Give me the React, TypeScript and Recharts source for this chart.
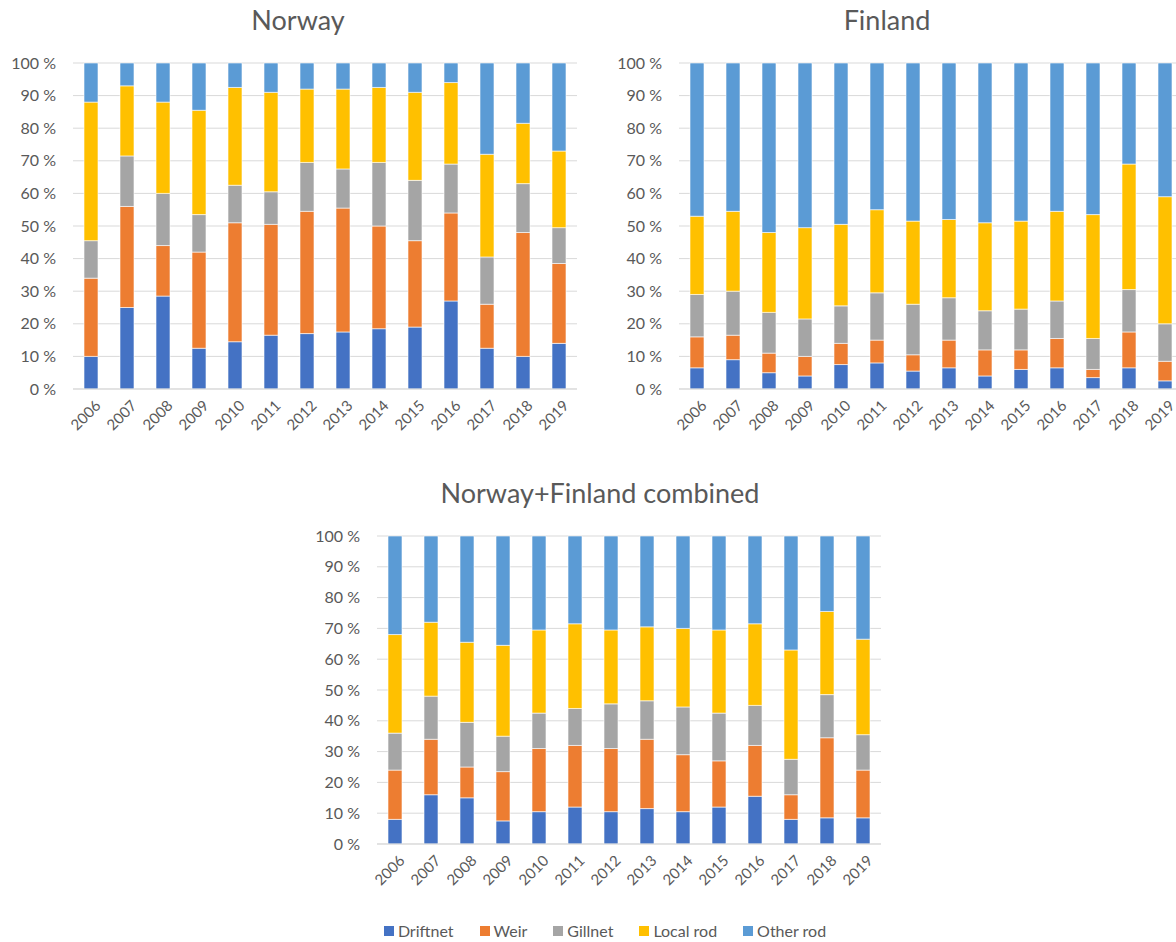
import React from 'react'
import { BarChart, Bar, XAxis, YAxis, CartesianGrid } from 'recharts'

const YEARS = ['2006', '2007', '2008', '2009', '2010', '2011', '2012', '2013', '2014', '2015', '2016', '2017', '2018', '2019']
const PCT_TICKS = [0, 10, 20, 30, 40, 50, 60, 70, 80, 90, 100]

// Norway shares (%) per gear type
const norwayDriftnet = [10, 25, 28.5, 12.5, 14.5, 16.5, 17, 17.5, 18.5, 19, 27, 12.5, 10, 14]
const norwayWeir = [24, 31, 15.5, 29.5, 36.5, 34, 37.5, 38, 31.5, 26.5, 27, 13.5, 38, 24.5]
const norwayGillnet = [11.5, 15.5, 16, 11.5, 11.5, 10, 15, 12, 19.5, 18.5, 15, 14.5, 15, 11]
const norwayLocalRod = [42.5, 21.5, 28, 32, 30, 30.5, 22.5, 24.5, 23, 27, 25, 31.5, 18.5, 23.5]
const norwayOtherRod = [12, 7, 12, 14.5, 7.5, 9, 8, 8, 7.5, 9, 6, 28, 18.5, 27]

// Finland shares (%)
const finlandDriftnet = [6.5, 9, 5, 4, 7.5, 8, 5.5, 6.5, 4, 6, 6.5, 3.5, 6.5, 2.5]
const finlandWeir = [9.5, 7.5, 6, 6, 6.5, 7, 5, 8.5, 8, 6, 9, 2.5, 11, 6]
const finlandGillnet = [13, 13.5, 12.5, 11.5, 11.5, 14.5, 15.5, 13, 12, 12.5, 11.5, 9.5, 13, 11.5]
const finlandLocalRod = [24, 24.5, 24.5, 28, 25, 25.5, 25.5, 24, 27, 27, 27.5, 38, 38.5, 39]
const finlandOtherRod = [47, 45.5, 52, 50.5, 49.5, 45, 48.5, 48, 49, 48.5, 45.5, 46.5, 31, 41]

// Norway + Finland combined (%)
const combinedDriftnet = [8, 16, 15, 7.5, 10.5, 12, 10.5, 11.5, 10.5, 12, 15.5, 8, 8.5, 8.5]
const combinedWeir = [16, 18, 10, 16, 20.5, 20, 20.5, 22.5, 18.5, 15, 16.5, 8, 26, 15.5]
const combinedGillnet = [12, 14, 14.5, 11.5, 11.5, 12, 14.5, 12.5, 15.5, 15.5, 13, 11.5, 14, 11.5]
const combinedLocalRod = [32, 24, 26, 29.5, 27, 27.5, 24, 24, 25.5, 27, 26.5, 35.5, 27, 31]
const combinedOtherRod = [32, 28, 34.5, 35.5, 30.5, 28.5, 30.5, 29.5, 30, 30.5, 28.5, 37, 24.5, 33.5]

const SERIES = [
  { key: 'driftnet', name: 'Driftnet', color: '#4472C4' },
  { key: 'weir', name: 'Weir', color: '#ED7D31' },
  { key: 'gillnet', name: 'Gillnet', color: '#A5A5A5' },
  { key: 'localRod', name: 'Local rod', color: '#FFC000' },
  { key: 'otherRod', name: 'Other rod', color: '#5B9BD5' }
]

const FONT = 'Lato, "Open Sans", sans-serif'

function buildRows(d: number[], w: number[], g: number[], l: number[], o: number[]) {
  return YEARS.map((year, i) => ({
    year,
    driftnet: d[i],
    weir: w[i],
    gillnet: g[i],
    localRod: l[i],
    otherRod: o[i]
  }))
}

const norwayData = buildRows(norwayDriftnet, norwayWeir, norwayGillnet, norwayLocalRod, norwayOtherRod)
const finlandData = buildRows(finlandDriftnet, finlandWeir, finlandGillnet, finlandLocalRod, finlandOtherRod)
const combinedData = buildRows(combinedDriftnet, combinedWeir, combinedGillnet, combinedLocalRod, combinedOtherRod)

const YearTick = ({ x, y, payload }: any) => (
  <g transform={`translate(${x + 7},${y + 6})`}>
    <text
      textAnchor="end"
      transform="rotate(-45)"
      dy="0.35em"
      fontSize={15}
      fill="#595959"
      fontFamily={FONT}
    >
      {payload.value}
    </text>
  </g>
)

const PctTick = ({ x, y, payload }: any) => (
  <text
    x={x - 9}
    y={y}
    textAnchor="end"
    dy="0.35em"
    fontSize={16}
    fill="#595959"
    fontFamily={FONT}
  >
    {`${payload.value} %`}
  </text>
)

interface PanelProps {
  data: any[]
  width: number
  height: number
  margin: { top: number; right: number; bottom: number; left: number }
}

function Panel({ data, width, height, margin }: PanelProps) {
  return (
    <BarChart width={width} height={height} data={data} margin={margin} barSize={14}>
      <CartesianGrid vertical={false} stroke="#d9d9d9" />
      <XAxis
        dataKey="year"
        tick={<YearTick />}
        tickLine={false}
        axisLine={{ stroke: '#d9d9d9' }}
        interval={0}
        height={45}
      />
      <YAxis
        domain={[0, 100]}
        ticks={PCT_TICKS}
        axisLine={false}
        tickLine={false}
        width={60}
        tick={<PctTick />}
      />
      {SERIES.map((s) => (
        <Bar
          key={s.key}
          dataKey={s.key}
          name={s.name}
          stackId="a"
          fill={s.color}
          stroke="#ffffff"
          strokeWidth={0.6}
          isAnimationActive={false}
        />
      ))}
    </BarChart>
  )
}

const titleStyle: React.CSSProperties = {
  position: 'absolute',
  fontFamily: FONT,
  fontSize: 27,
  color: '#595959',
  textAlign: 'center',
  lineHeight: '32px'
}

export default function App() {
  return (
    <div
      style={{
        position: 'fixed',
        left: 0,
        top: 0,
        width: 1176,
        height: 942,
        overflow: 'hidden',
        background: '#ffffff'
      }}
    >
      {/* Norway */}
      <div style={{ ...titleStyle, left: 0, top: 4, width: 596 }}>Norway</div>
      <div style={{ position: 'absolute', left: 0, top: 0 }}>
        <Panel data={norwayData} width={600} height={440} margin={{ top: 63, right: 23, bottom: 6, left: 13 }} />
      </div>

      {/* Finland */}
      <div style={{ ...titleStyle, left: 590, top: 4, width: 594 }}>Finland</div>
      <div style={{ position: 'absolute', left: 600, top: 0 }}>
        <Panel data={finlandData} width={600} height={440} margin={{ top: 63, right: 17, bottom: 6, left: 19 }} />
      </div>

      {/* Combined */}
      <div style={{ ...titleStyle, left: 300, top: 477, width: 600 }}>Norway+Finland combined</div>
      <div style={{ position: 'absolute', left: 300, top: 480 }}>
        <Panel data={combinedData} width={600} height={420} margin={{ top: 56, right: 19, bottom: 11, left: 17 }} />
      </div>

      {/* Legend */}
      <div
        style={{
          position: 'absolute',
          left: 300,
          top: 920,
          width: 610,
          display: 'flex',
          justifyContent: 'center',
          gap: 26,
          fontFamily: FONT,
          fontSize: 16,
          color: '#595959',
          lineHeight: '22px'
        }}
      >
        {SERIES.map((s) => (
          <div key={s.key} style={{ display: 'flex', alignItems: 'center' }}>
            <span style={{ display: 'inline-block', width: 10, height: 10, background: s.color, marginRight: 4 }} />
            {s.name}
          </div>
        ))}
      </div>
    </div>
  )
}
